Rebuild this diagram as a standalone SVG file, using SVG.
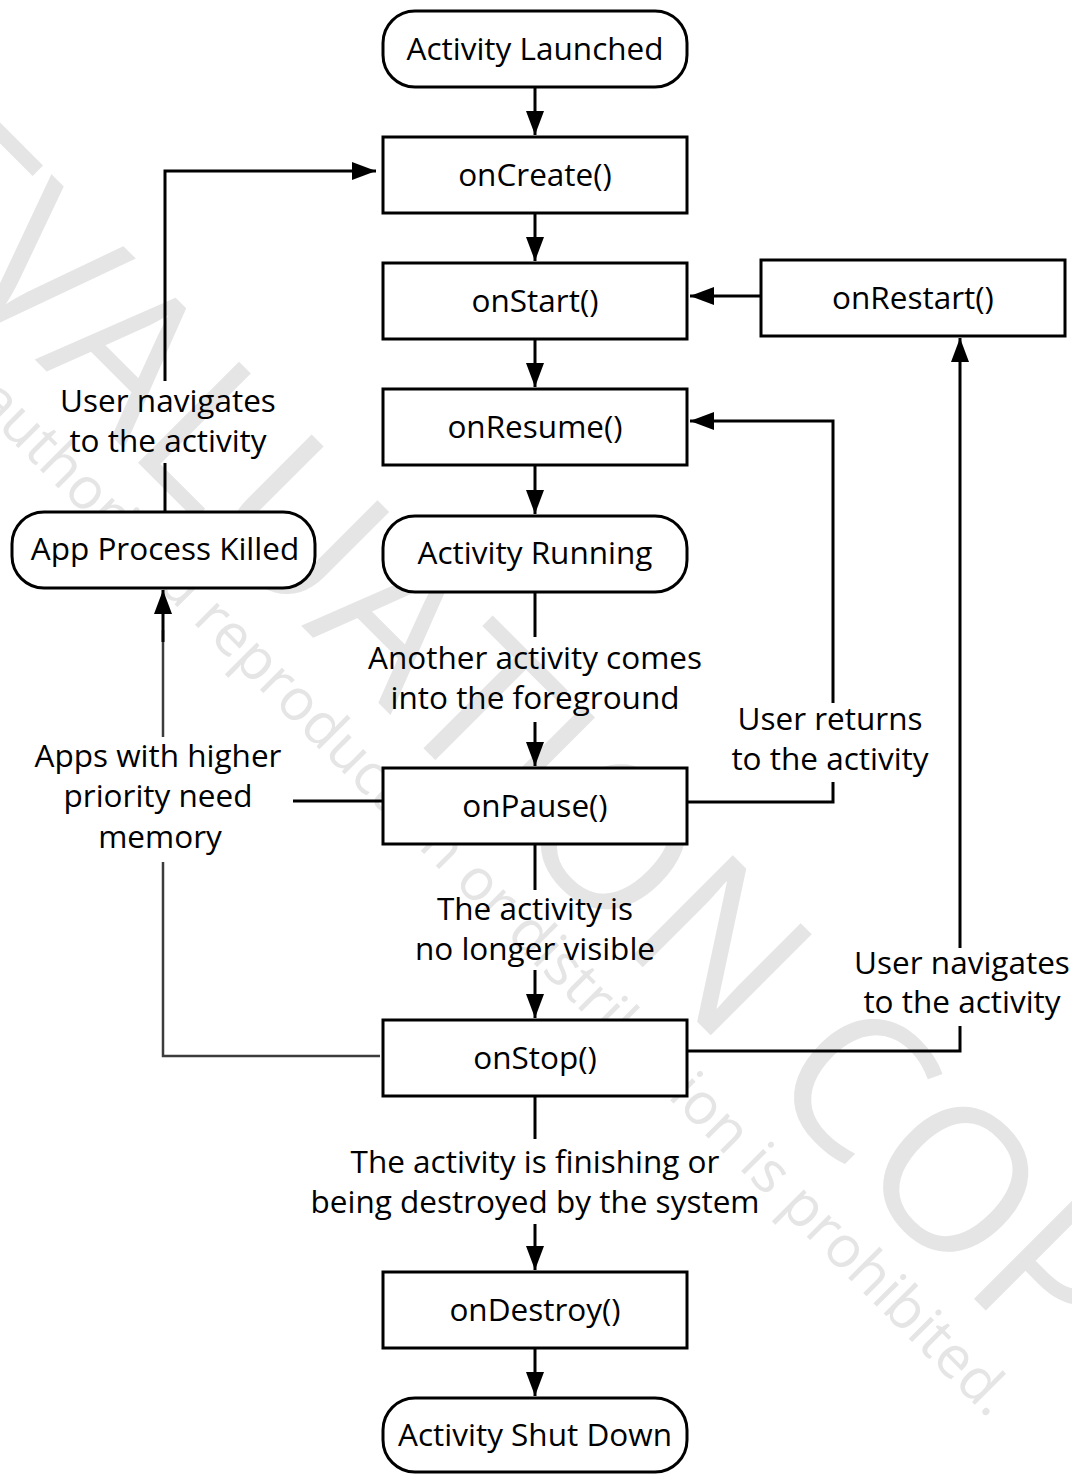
<svg xmlns="http://www.w3.org/2000/svg" width="1072" height="1474" viewBox="0 0 1072 1474">
  <style>
    .box { fill: #fff; stroke: #000; stroke-width: 3; }
    .lbl { font-family: "Open Sans", "Noto Sans", "Liberation Sans", sans-serif; font-size: 31.5px; fill: #000; text-anchor: middle; }
    .wire { fill: none; stroke: #000; stroke-width: 3; }
    .grey { fill: none; stroke: #3c3c3c; stroke-width: 2.5; }
    .mark { font-family: "Open Sans", "Noto Sans", "Liberation Sans", sans-serif; fill: #e5e5e5; text-anchor: middle; dominant-baseline: central; }
  </style>
  <defs>
    <marker id="head" markerUnits="userSpaceOnUse" markerWidth="24" markerHeight="18" refX="24" refY="9" orient="auto">
      <path d="M0,0 L24,9 L0,18 Z" fill="#000"/>
    </marker>
  </defs>
  <rect width="1072" height="1474" fill="#fff"/>

  <!-- faint diagonal watermark -->
  <g id="watermark">
    <text class="mark" font-size="200" transform="translate(553,768) rotate(45)">EVALUATION COPY</text>
    <text class="mark" font-size="58" transform="translate(470,868) rotate(45)">Unauthorized reproduction or distribution is prohibited.</text>
  </g>

  <!-- connectors -->
  <g id="connectors">
    <path class="wire" d="M535,87 V135" marker-end="url(#head)"/>
    <path class="wire" d="M535,213 V261" marker-end="url(#head)"/>
    <path class="wire" d="M535,339 V387" marker-end="url(#head)"/>
    <path class="wire" d="M535,465 V514" marker-end="url(#head)"/>

    <path class="wire" d="M535,592 V637"/>
    <path class="wire" d="M535,722 V766" marker-end="url(#head)"/>
    <text class="lbl" x="535" y="669">Another activity comes</text>
    <text class="lbl" x="535" y="709">into the foreground</text>

    <path class="wire" d="M535,844 V890"/>
    <path class="wire" d="M535,970 V1018" marker-end="url(#head)"/>
    <text class="lbl" x="535" y="920">The activity is</text>
    <text class="lbl" x="535" y="960">no longer visible</text>

    <path class="wire" d="M535,1096 V1139"/>
    <path class="wire" d="M535,1224 V1270" marker-end="url(#head)"/>
    <text class="lbl" x="535" y="1173">The activity is finishing or</text>
    <text class="lbl" x="535" y="1213">being destroyed by the system</text>

    <path class="wire" d="M535,1348 V1396" marker-end="url(#head)"/>

    <!-- onRestart back into onStart -->
    <path class="wire" d="M760,296 H690" marker-end="url(#head)"/>

    <!-- onPause back to onResume -->
    <path class="wire" d="M688,802 H833 V782"/>
    <path class="wire" d="M833,703 V421 H690" marker-end="url(#head)"/>
    <text class="lbl" x="830" y="730">User returns</text>
    <text class="lbl" x="830" y="770">to the activity</text>

    <!-- onStop up to onRestart -->
    <path class="wire" d="M688,1051 H960 V1026"/>
    <path class="wire" d="M960,948 V338" marker-end="url(#head)"/>
    <text class="lbl" x="962" y="974">User navigates</text>
    <text class="lbl" x="962" y="1013">to the activity</text>

    <!-- killed process relaunches at onCreate -->
    <path class="wire" d="M165,512 V463"/>
    <path class="wire" d="M165,381 V171 H376" marker-end="url(#head)"/>
    <text class="lbl" x="168" y="412">User navigates</text>
    <text class="lbl" x="168" y="452">to the activity</text>

    <!-- memory pressure kills the process -->
    <path class="wire" d="M382,801 H293"/>
    <path class="grey" d="M380,1056 H163 V862"/>
    <path class="grey" d="M163,737 V630"/>
    <path class="wire" d="M163,642 V590" marker-end="url(#head)"/>
    <text class="lbl" x="158" y="767">Apps with higher</text>
    <text class="lbl" x="158" y="807">priority need</text>
    <text class="lbl" x="160" y="848">memory</text>
  </g>

  <!-- nodes -->
  <g id="activity-launched">
    <rect class="box" x="383" y="11" width="304" height="76" rx="32"/>
    <text class="lbl" x="535" y="60">Activity Launched</text>
  </g>
  <g id="on-create">
    <rect class="box" x="383" y="137" width="304" height="76"/>
    <text class="lbl" x="535" y="186">onCreate()</text>
  </g>
  <g id="on-start">
    <rect class="box" x="383" y="263" width="304" height="76"/>
    <text class="lbl" x="535" y="312">onStart()</text>
  </g>
  <g id="on-restart">
    <rect class="box" x="761" y="260" width="304" height="76"/>
    <text class="lbl" x="913" y="309">onRestart()</text>
  </g>
  <g id="on-resume">
    <rect class="box" x="383" y="389" width="304" height="76"/>
    <text class="lbl" x="535" y="438">onResume()</text>
  </g>
  <g id="activity-running">
    <rect class="box" x="383" y="516" width="304" height="76" rx="32"/>
    <text class="lbl" x="535" y="564">Activity Running</text>
  </g>
  <g id="app-process-killed">
    <rect class="box" x="12" y="512" width="303" height="76" rx="32"/>
    <text class="lbl" x="165" y="560">App Process Killed</text>
  </g>
  <g id="on-pause">
    <rect class="box" x="383" y="768" width="304" height="76"/>
    <text class="lbl" x="535" y="817">onPause()</text>
  </g>
  <g id="on-stop">
    <rect class="box" x="383" y="1020" width="304" height="76"/>
    <text class="lbl" x="535" y="1069">onStop()</text>
  </g>
  <g id="on-destroy">
    <rect class="box" x="383" y="1272" width="304" height="76"/>
    <text class="lbl" x="535" y="1321">onDestroy()</text>
  </g>
  <g id="activity-shut-down">
    <rect class="box" x="383" y="1398" width="304" height="74" rx="32"/>
    <text class="lbl" x="535" y="1446">Activity Shut Down</text>
  </g>
</svg>
